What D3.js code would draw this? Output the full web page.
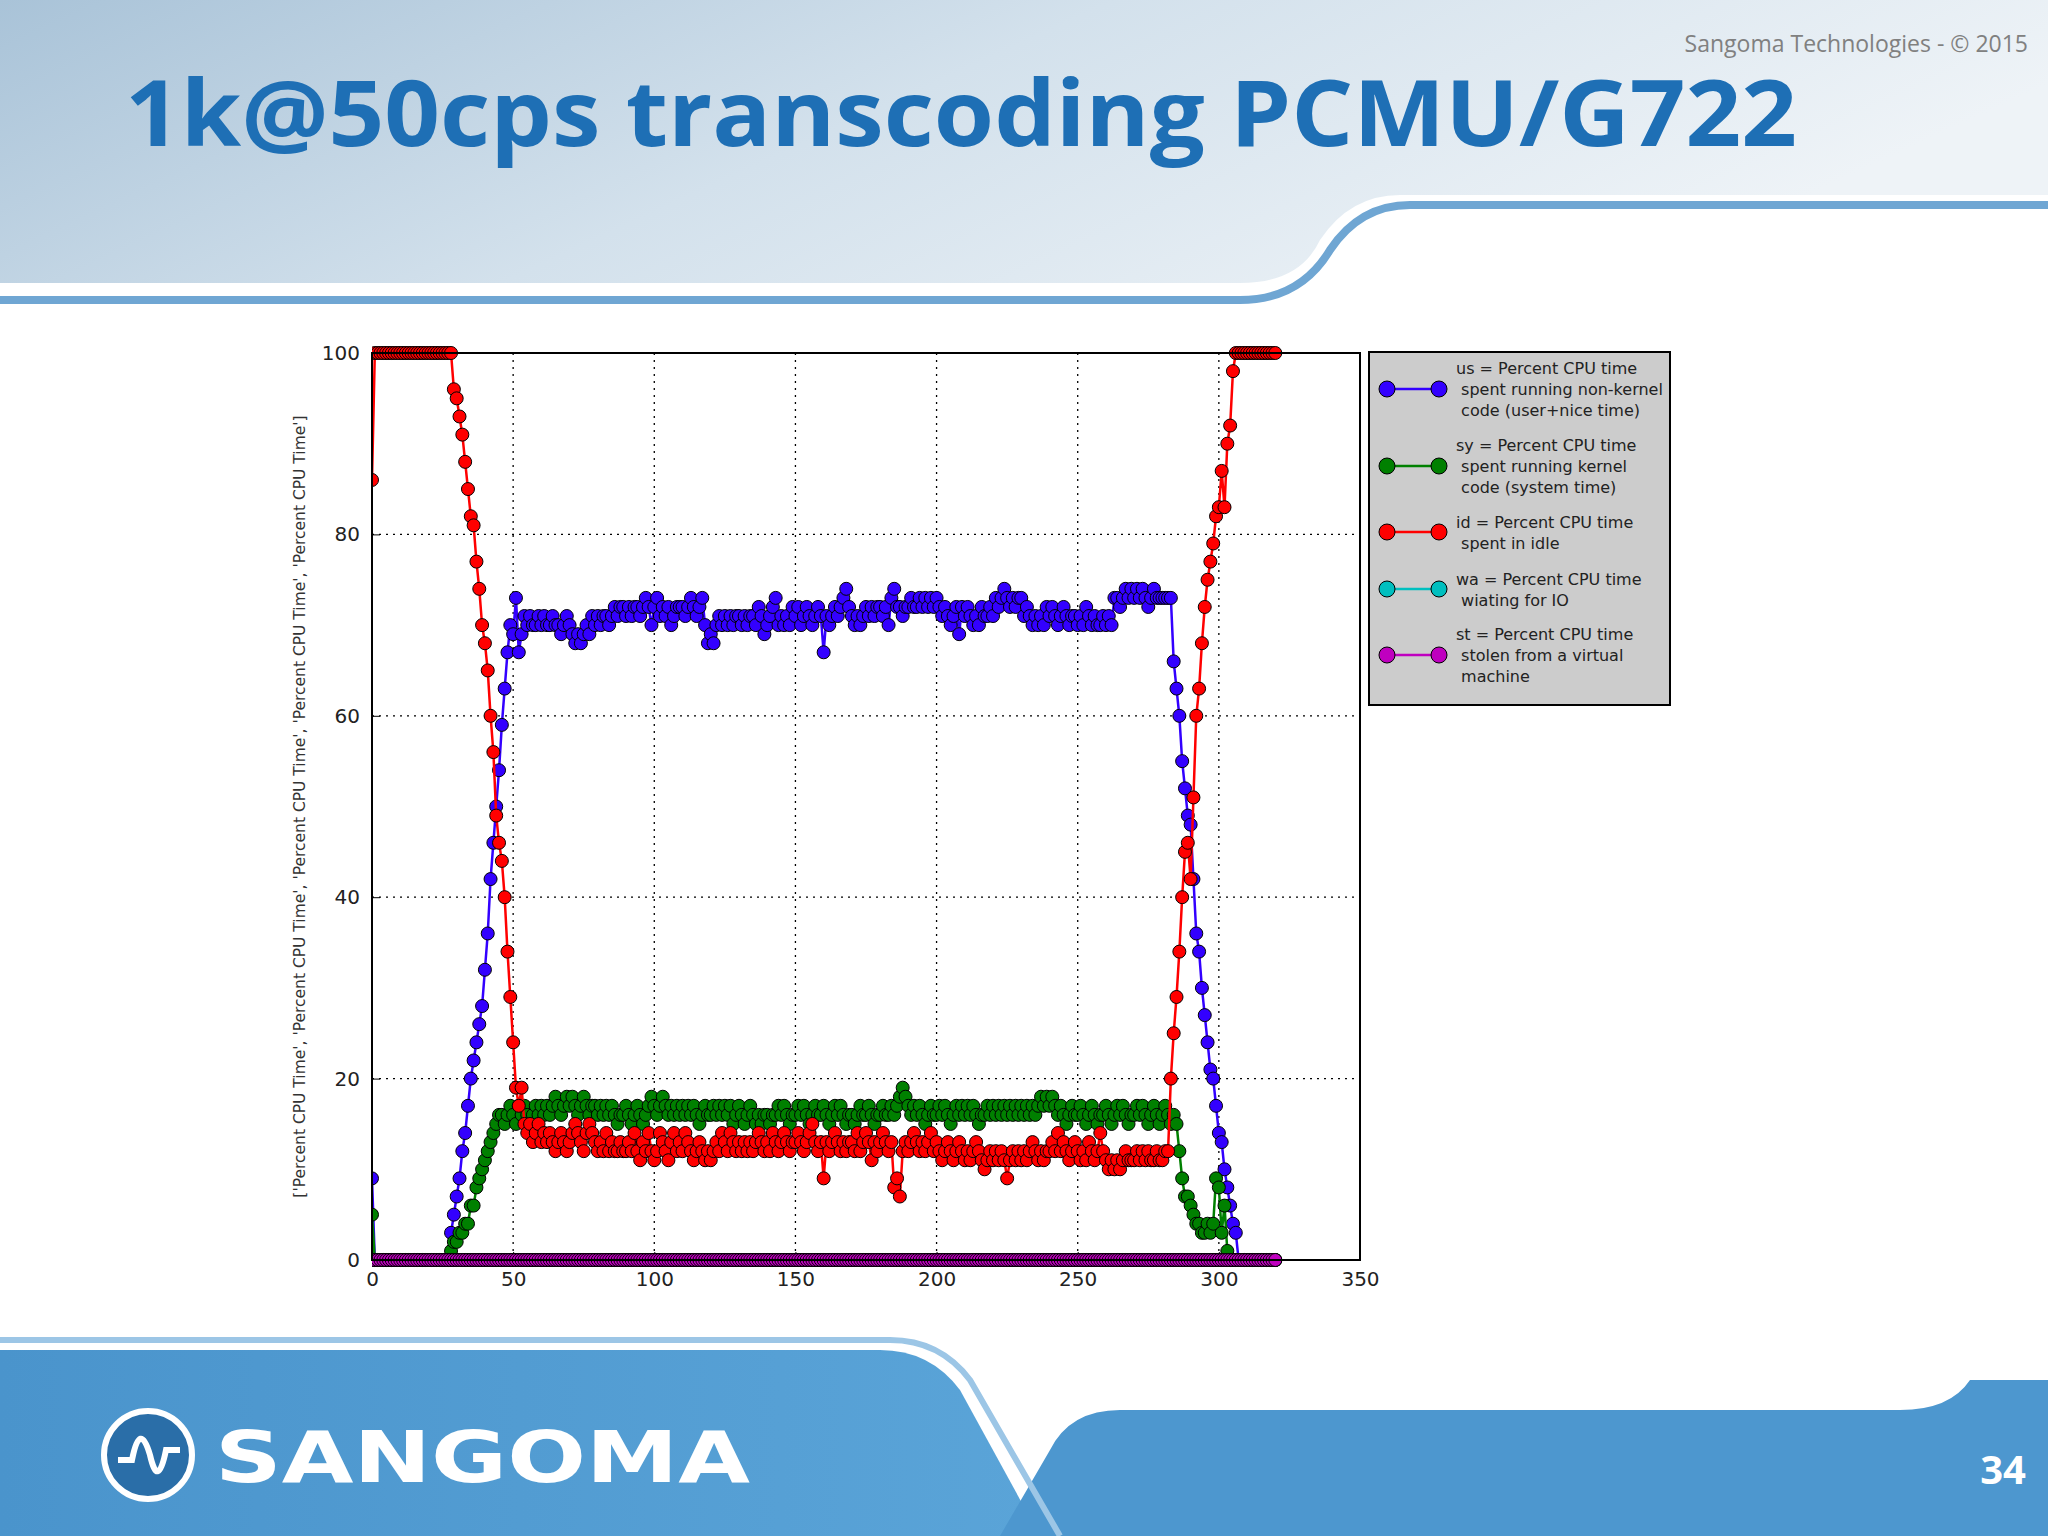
<!DOCTYPE html>
<html>
<head>
<meta charset="utf-8">
<script src="https://cdn.jsdelivr.net/npm/d3@7"></script>
<style>
  body { margin: 0; background: #fff; }
  svg { display: block; }
</style>
</head>
<body>
<div id="vis"></div>
<script>
// x is sample index 0..320
const usVals = [9,
  0,0,0,0,0,0,0,0,0,0,0,0,0,0,0,0,0,0,0,0,0,0,0,0,0,0,0,
  3,5,7,9,12,14,17,20,22,24,26,28,32,36,42,46,50,54,59,63,67,70,69,73,67,
  69,71,70,71,70,70,71,
  70,71,70,70,71,70,70,69,70,71,
  70,69,68,69,68,69,70,69,71,70,
  71,70,71,71,70,71,72,71,72,72,
  71,72,71,72,72,71,72,73,72,70,
  72,73,71,72,71,72,70,71,72,72,
  72,71,72,73,72,71,72,73,70,68,
  69,68,70,71,70,71,70,71,70,71,
  71,70,71,70,71,71,70,72,71,69,
  70,71,72,73,70,71,70,71,70,72,
  71,72,70,71,72,71,70,71,72,71,
  67,71,70,71,72,71,72,73,74,72,
  71,70,71,70,71,72,71,72,71,72,
  72,71,72,70,73,74,72,72,71,72,
  72,73,72,72,73,72,73,72,73,72,
  73,72,71,72,71,70,71,72,69,72,
  71,72,71,70,71,70,72,71,71,72,
  71,73,72,73,74,73,72,73,72,73,
  73,71,72,71,70,71,70,71,70,72,
  71,72,71,70,71,72,71,70,71,71,
  70,71,70,72,71,70,71,70,70,71,
  70,71,70,73,73,72,73,74,73,74,
  73,74,73,74,73,72,73,74,73,73,
  73,73,73,
  73,66,63,60,55,52,49,48,42,36,34,30,27,24,21,20,17,14,13,10,8,6,4,3,
  0,0,0,0,0,0,0,0,0,0,0,0,0,0];

const syVals = [5,
  0,0,0,0,0,0,0,0,0,0,0,0,0,0,0,0,0,0,0,0,0,0,0,0,0,0,0,
  1,2,2,3,3,4,4,6,6,8,9,10,11,12,13,14,15,16,
  16,15,16,17,
  16,15,17,16,17,16,15,16,17,16,
  17,16,17,16,17,18,17,16,17,18,
  17,18,17,16,17,18,17,16,17,17,
  16,17,16,17,16,17,16,15,16,16,
  17,16,15,16,17,16,15,16,17,18,
  17,16,17,18,17,16,17,16,17,16,
  17,16,17,16,17,16,15,16,17,16,
  16,17,16,17,16,17,16,17,15,16,
  17,16,15,16,17,16,15,16,15,16,
  16,15,16,16,17,16,17,16,15,16,
  16,17,16,17,16,15,16,17,16,16,
  17,16,15,16,17,16,17,16,15,16,
  16,15,16,17,16,16,17,16,15,16,
  16,17,16,16,17,16,17,18,19,18,
  17,16,17,16,17,16,15,16,17,16,
  16,17,16,17,16,15,16,17,16,17,
  16,17,16,17,16,15,16,16,17,16,
  17,16,17,16,17,16,17,16,17,16,
  17,16,17,16,17,16,17,18,17,18,
  17,18,17,16,17,16,15,16,17,16,
  16,17,16,15,16,17,16,15,16,16,
  17,16,15,16,17,16,17,16,15,16,
  16,17,16,17,16,15,16,17,16,15,
  16,17,16,15,16,
  15,12,9,7,7,6,5,4,4,3,3,4,3,4,9,8,3,6,1,
  0,0,0,0,0,0,0,0,0,0,0,0,0,0,0,0,0];

const idVals = [86,
  100,100,100,100,100,100,100,100,100,100,100,100,100,100,
  100,100,100,100,100,100,100,100,100,100,100,100,100,100,
  96,95,93,91,88,85,82,81,77,74,70,68,65,60,56,49,46,44,40,34,29,24,19,17,19,15,
  14,15,13,14,15,
  13,14,13,14,13,12,13,14,13,12,
  13,14,15,14,13,12,14,15,14,13,
  12,13,12,14,12,13,12,12,13,12,
  12,13,12,14,12,11,13,12,14,12,
  11,12,14,13,12,11,13,14,12,13,
  12,14,13,12,11,12,13,12,11,12,
  11,12,13,12,14,13,12,14,13,12,
  13,12,13,12,13,12,13,14,13,12,
  13,12,14,13,12,13,14,13,12,13,
  13,14,13,12,13,14,15,13,12,13,
  9,13,12,13,14,13,12,13,12,13,
  13,12,14,12,13,14,13,11,13,12,
  13,14,13,12,13,8,9,7,12,13,
  12,13,14,13,12,13,12,13,14,12,
  13,12,11,12,13,12,11,12,13,12,
  11,12,11,12,13,12,11,10,11,12,
  11,12,11,12,11,9,11,12,11,12,
  11,12,11,12,13,12,11,12,11,12,
  12,13,12,14,12,13,12,11,12,13,
  12,11,12,11,13,12,11,12,14,12,
  11,10,11,10,11,10,11,12,11,11,
  11,12,11,12,11,12,11,11,12,11,
  11,12,12,
  20,25,29,34,40,45,46,42,51,60,63,68,72,75,77,79,82,83,87,83,90,92,98,
  100,100,100,100,100,100,100,100,100,100,100,100,100,100,100];

const waVals = [0,0,0,0,0,0,0,0,0,0,0,0,0,0,0,0,0,0,0,0,0,0,0,0,0,0,0,0,0,0,0,0,0,0,0,0,0,0,0,0,
  0,0,0,0,0,0,0,0,0,0,0,0,0,0,0,0,0,0,0,0,0,0,0,0,0,0,0,0,0,0,0,0,0,0,0,0,0,0,0,0,
  0,0,0,0,0,0,0,0,0,0,0,0,0,0,0,0,0,0,0,0,0,0,0,0,0,0,0,0,0,0,0,0,0,0,0,0,0,0,0,0,
  0,0,0,0,0,0,0,0,0,0,0,0,0,0,0,0,0,0,0,0,0,0,0,0,0,0,0,0,0,0,0,0,0,0,0,0,0,0,0,0,
  0,0,0,0,0,0,0,0,0,0,0,0,0,0,0,0,0,0,0,0,0,0,0,0,0,0,0,0,0,0,0,0,0,0,0,0,0,0,0,0,
  0,0,0,0,0,0,0,0,0,0,0,0,0,0,0,0,0,0,0,0,0,0,0,0,0,0,0,0,0,0,0,0,0,0,0,0,0,0,0,0,
  0,0,0,0,0,0,0,0,0,0,0,0,0,0,0,0,0,0,0,0,0,0,0,0,0,0,0,0,0,0,0,0,0,0,0,0,0,0,0,0,
  0,0,0,0,0,0,0,0,0,0,0,0,0,0,0,0,0,0,0,0,0,0,0,0,0,0,0,0,0,0,0,0,0,0,0,0,0,0,0,0,0];

const stVals = [0,0,0,0,0,0,0,0,0,0,0,0,0,0,0,0,0,0,0,0,0,0,0,0,0,0,0,0,0,0,0,0,0,0,0,0,0,0,0,0,
  0,0,0,0,0,0,0,0,0,0,0,0,0,0,0,0,0,0,0,0,0,0,0,0,0,0,0,0,0,0,0,0,0,0,0,0,0,0,0,0,
  0,0,0,0,0,0,0,0,0,0,0,0,0,0,0,0,0,0,0,0,0,0,0,0,0,0,0,0,0,0,0,0,0,0,0,0,0,0,0,0,
  0,0,0,0,0,0,0,0,0,0,0,0,0,0,0,0,0,0,0,0,0,0,0,0,0,0,0,0,0,0,0,0,0,0,0,0,0,0,0,0,
  0,0,0,0,0,0,0,0,0,0,0,0,0,0,0,0,0,0,0,0,0,0,0,0,0,0,0,0,0,0,0,0,0,0,0,0,0,0,0,0,
  0,0,0,0,0,0,0,0,0,0,0,0,0,0,0,0,0,0,0,0,0,0,0,0,0,0,0,0,0,0,0,0,0,0,0,0,0,0,0,0,
  0,0,0,0,0,0,0,0,0,0,0,0,0,0,0,0,0,0,0,0,0,0,0,0,0,0,0,0,0,0,0,0,0,0,0,0,0,0,0,0,
  0,0,0,0,0,0,0,0,0,0,0,0,0,0,0,0,0,0,0,0,0,0,0,0,0,0,0,0,0,0,0,0,0,0,0,0,0,0,0,0,0];

const seriesNames = ["us", "sy", "id", "wa", "st"];
const seriesColors = ["#3300ff", "#008000", "#ff0000", "#00bfbf", "#bf00bf"];
const legendLabels = [
  ["us = Percent CPU time", " spent running non-kernel", " code (user+nice time)"],
  ["sy = Percent CPU time", " spent running kernel", " code (system time)"],
  ["id = Percent CPU time", " spent in idle"],
  ["wa = Percent CPU time", " wiating for IO"],
  ["st = Percent CPU time", " stolen from a virtual", " machine"]
];
const xTicks = [0, 50, 100, 150, 200, 250, 300, 350];
const yTicks = [0, 20, 40, 60, 80, 100];
const yLabel = "['Percent CPU Time', 'Percent CPU Time', 'Percent CPU Time', 'Percent CPU Time', 'Percent CPU Time']";

const W = 2048, H = 1536;
const plot = {left: 372, right: 1360, top: 353, bottom: 1260};

const svg = d3.select("#vis").append("svg")
    .attr("width", W).attr("height", H);

// slide background
const defs = svg.append("defs");
const hg = defs.append("linearGradient").attr("id", "hdr").attr("x1", 0).attr("x2", 1).attr("y1", 0).attr("y2", 0.3);
hg.append("stop").attr("offset", 0).attr("stop-color", "#a9c3d8");
hg.append("stop").attr("offset", 0.5).attr("stop-color", "#d3e1ec");
hg.append("stop").attr("offset", 1).attr("stop-color", "#eef3f7");
const fg = defs.append("linearGradient").attr("id", "ftr").attr("x1", 0).attr("x2", 1);
fg.append("stop").attr("offset", 0).attr("stop-color", "#4a94cc");
fg.append("stop").attr("offset", 1).attr("stop-color", "#5aa4d8");

svg.append("path")
    .attr("d", "M0,0 H2048 V195 H1400 Q1350,195 1320,240 Q1300,283 1240,283 H0 Z")
    .attr("fill", "url(#hdr)");
svg.append("path")
    .attr("d", "M0,300 H1240 Q1300,300 1330,250 Q1360,205 1410,205 H2048")
    .attr("fill", "none").attr("stroke", "#6fa6d3").attr("stroke-width", 8);

svg.append("path")
    .attr("d", "M0,1350 H880 Q930,1350 960,1390 L1040,1536 H0 Z")
    .attr("fill", "url(#ftr)");
svg.append("path")
    .attr("d", "M1000,1536 L1050,1450 Q1070,1410 1120,1410 H1900 Q1950,1410 1970,1380 H2048 V1536 Z")
    .attr("fill", "#4d97cf");
svg.append("path")
    .attr("d", "M0,1340 H890 Q940,1340 970,1380 L1060,1536")
    .attr("fill", "none").attr("stroke", "#9cc6e6").attr("stroke-width", 6);

svg.append("text").attr("x", 2028).attr("y", 52).attr("text-anchor", "end")
    .attr("font-family", "Open Sans").attr("font-size", 23).attr("fill", "#808080")
    .text("Sangoma Technologies - © 2015");
svg.append("text").attr("x", 125).attr("y", 146)
    .attr("font-family", "Open Sans").attr("font-weight", "bold").attr("font-size", 92)
    .attr("fill", "#1e6fb5").attr("textLength", 1672).attr("lengthAdjust", "spacingAndGlyphs")
    .text("1k@50cps transcoding PCMU/G722");

// logo
svg.append("circle").attr("cx", 148).attr("cy", 1455).attr("r", 44)
    .attr("fill", "#2a6ea8").attr("stroke", "#ffffff").attr("stroke-width", 6);
svg.append("path").attr("d", "M118,1460 H132 Q140,1420 150,1455 Q158,1490 166,1450 H180")
    .attr("fill", "none").attr("stroke", "#fff").attr("stroke-width", 6);
svg.append("text").attr("x", 215).attr("y", 1482)
    .attr("font-family", "DejaVu Sans").attr("font-weight", "bold").attr("font-size", 72)
    .attr("fill", "#fff").attr("textLength", 535).attr("lengthAdjust", "spacingAndGlyphs")
    .text("SANGOMA");
svg.append("text").attr("x", 2026).attr("y", 1484).attr("text-anchor", "end")
    .attr("font-family", "Open Sans").attr("font-weight", "bold").attr("font-size", 40)
    .attr("fill", "#fff").text("34");

// chart
const x = d3.scaleLinear().domain([0, 350]).range([plot.left, plot.right]);
const y = d3.scaleLinear().domain([0, 100]).range([plot.bottom, plot.top]);

const g = svg.append("g");
g.append("rect").attr("x", plot.left).attr("y", plot.top)
    .attr("width", plot.right - plot.left).attr("height", plot.bottom - plot.top)
    .attr("fill", "#fff");

g.append("g").selectAll("line").data(xTicks.slice(1, -1)).join("line")
    .attr("x1", d => x(d)).attr("x2", d => x(d))
    .attr("y1", plot.top).attr("y2", plot.bottom)
    .attr("stroke", "#000").attr("stroke-width", 1.3).attr("stroke-dasharray", "2,5");
g.append("g").selectAll("line").data(yTicks.slice(1, -1)).join("line")
    .attr("y1", d => y(d)).attr("y2", d => y(d))
    .attr("x1", plot.left).attr("x2", plot.right)
    .attr("stroke", "#000").attr("stroke-width", 1.3).attr("stroke-dasharray", "2,5");

const xAxis = g.append("g").attr("transform", `translate(0,${plot.bottom})`)
    .call(d3.axisBottom(x).tickValues(xTicks).tickSize(-8).tickPadding(12));
const yAxis = g.append("g").attr("transform", `translate(${plot.left},0)`)
    .call(d3.axisLeft(y).tickValues(yTicks).tickSize(-8).tickPadding(12));
[xAxis, yAxis].forEach(a => {
  a.select(".domain").remove();
  a.selectAll("text").attr("font-family", "DejaVu Sans").attr("font-size", 20).attr("fill", "#222");
});

svg.append("text")
    .attr("transform", `translate(305,${(plot.top + plot.bottom) / 2}) rotate(-90)`)
    .attr("text-anchor", "middle")
    .attr("font-family", "DejaVu Sans").attr("font-size", 15.5).attr("fill", "#333")
    .text(yLabel);

const allSeries = [usVals, syVals, idVals, waVals, stVals];
const line = d3.line().x((d, i) => x(i)).y(d => y(d));

const clip = defs.append("clipPath").attr("id", "plotclip");
clip.append("rect").attr("x", plot.left).attr("y", plot.top - 8)
    .attr("width", plot.right - plot.left).attr("height", plot.bottom - plot.top + 16);

const marks = g.append("g").attr("clip-path", "url(#plotclip)");
allSeries.forEach((vals, si) => {
  const sg = marks.append("g");
  sg.append("path").datum(vals).attr("d", line)
    .attr("fill", "none").attr("stroke", seriesColors[si]).attr("stroke-width", 2.5);
  sg.selectAll("circle").data(vals).join("circle")
    .attr("cx", (d, i) => x(i)).attr("cy", d => y(d)).attr("r", 6.5)
    .attr("fill", seriesColors[si]).attr("stroke", "#000").attr("stroke-width", 1);
});

g.append("rect").attr("x", plot.left).attr("y", plot.top)
    .attr("width", plot.right - plot.left).attr("height", plot.bottom - plot.top)
    .attr("fill", "none").attr("stroke", "#000").attr("stroke-width", 2);

// legend
const lg = svg.append("g");
lg.append("rect").attr("x", 1369).attr("y", 352).attr("width", 301).attr("height", 353)
    .attr("fill", "#cccccc").attr("stroke", "#000").attr("stroke-width", 2);
const legendY = [389, 466, 532, 589, 655];
seriesNames.forEach((n, i) => {
  const cy = legendY[i];
  lg.append("line").attr("x1", 1387).attr("x2", 1439).attr("y1", cy).attr("y2", cy)
    .attr("stroke", seriesColors[i]).attr("stroke-width", 2.5);
  [1387, 1439].forEach(cx => lg.append("circle").attr("cx", cx).attr("cy", cy).attr("r", 8)
    .attr("fill", seriesColors[i]).attr("stroke", "#000").attr("stroke-width", 1));
  const lines = legendLabels[i];
  const t0 = cy - (lines.length - 1) * 10.5 + 6;
  lines.forEach((s, k) => lg.append("text").attr("x", 1456).attr("y", t0 + k * 21)
    .attr("xml:space", "preserve")
    .attr("font-family", "DejaVu Sans").attr("font-size", 16).attr("fill", "#222").text(s));
});
</script>
</body>
</html>
